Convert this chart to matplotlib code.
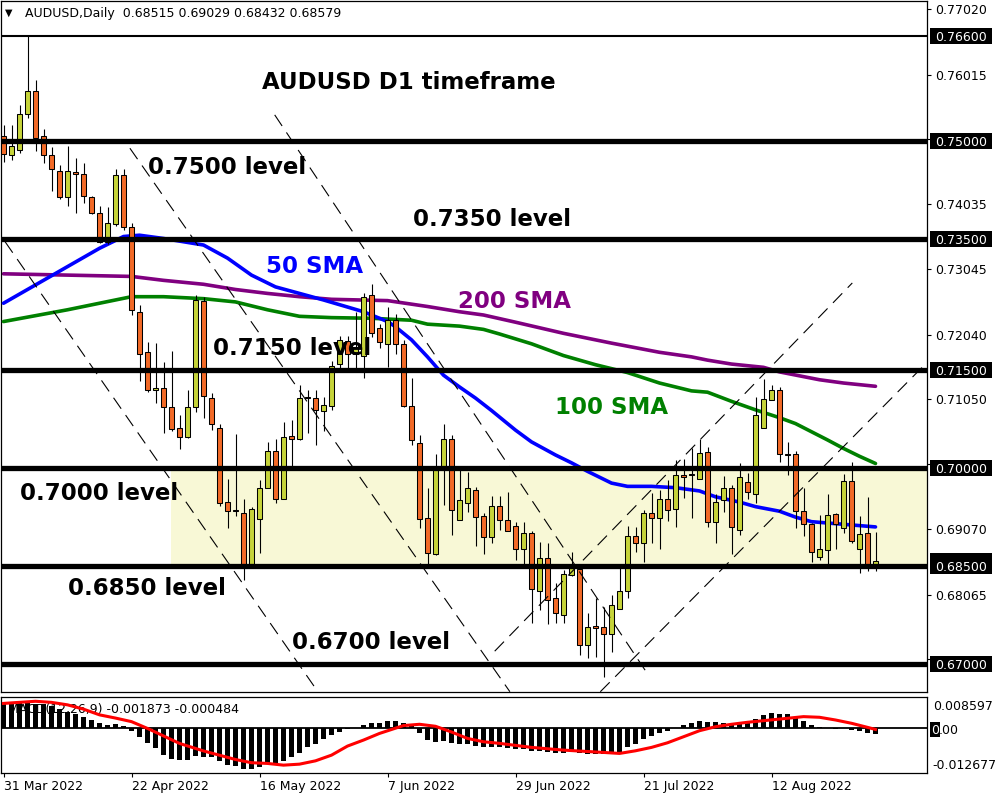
import numpy as np
import matplotlib
matplotlib.use("Agg")
import matplotlib.pyplot as plt
from matplotlib.patches import Rectangle
from matplotlib import transforms

# ---------------------------------------------------------------- data
symbol = "AUDUSD,Daily"
last_ohlc = [0.68515, 0.69029, 0.68432, 0.68579]
macd_header = [-0.001873, -0.000484]

opens = [0.7507, 0.7478, 0.7486, 0.7541, 0.7576, 0.7507, 0.7478, 0.7454, 0.7414, 0.7452,
         0.7449, 0.7414, 0.7390, 0.7346, 0.7373, 0.7448, 0.7368, 0.7239, 0.7177, 0.7120,
         0.7123, 0.7093, 0.7062, 0.7047, 0.7093, 0.7256, 0.7107, 0.7062, 0.6948, 0.6936,
         0.6931, 0.6853, 0.6922, 0.6969, 0.7026, 0.6953, 0.7049, 0.7045, 0.7107, 0.7107,
         0.7087, 0.7095, 0.7159, 0.7194, 0.7175, 0.7172, 0.7265, 0.7214, 0.7190, 0.7226,
         0.7189, 0.7095, 0.7038, 0.6924, 0.6868, 0.6999, 0.7044, 0.6920, 0.6946, 0.6967,
         0.6926, 0.6894, 0.6942, 0.6921, 0.6911, 0.6876, 0.6900, 0.6812, 0.6863, 0.6801,
         0.6776, 0.6836, 0.6846, 0.6730, 0.6758, 0.6757, 0.6747, 0.6784, 0.6812, 0.6896,
         0.6886, 0.6932, 0.6924, 0.6953, 0.6937, 0.6990, 0.6990, 0.6983, 0.7024, 0.6917,
         0.6951, 0.6969, 0.6906, 0.6978, 0.6961, 0.7062, 0.7104, 0.7119, 0.7021, 0.7021,
         0.6935, 0.6914, 0.6864, 0.6874, 0.6929, 0.6908, 0.6980, 0.6877, 0.6900, 0.68515]

highs = [0.7524, 0.7524, 0.7555, 0.7660, 0.7593, 0.7518, 0.7491, 0.7464, 0.7492, 0.7474,
         0.7467, 0.7416, 0.7400, 0.7399, 0.7457, 0.7457, 0.7375, 0.7249, 0.7192, 0.7191,
         0.7162, 0.7179, 0.7081, 0.7119, 0.7265, 0.7262, 0.7114, 0.7068, 0.6984, 0.7052,
         0.6952, 0.6940, 0.6982, 0.7040, 0.7045, 0.7071, 0.7073, 0.7127, 0.7119, 0.7119,
         0.7109, 0.7163, 0.7202, 0.7202, 0.7239, 0.7268, 0.7282, 0.7221, 0.7246, 0.7235,
         0.7196, 0.7137, 0.7050, 0.6969, 0.7022, 0.7068, 0.7050, 0.6997, 0.6994, 0.6971,
         0.6932, 0.6957, 0.6957, 0.6963, 0.6918, 0.6918, 0.6903, 0.6887, 0.6885, 0.6825,
         0.6844, 0.6872, 0.6854, 0.6778, 0.6802, 0.6787, 0.6806, 0.6847, 0.6911, 0.6910,
         0.6936, 0.6962, 0.6966, 0.6982, 0.7012, 0.7014, 0.7030, 0.7045, 0.7032, 0.6960,
         0.6988, 0.6974, 0.7008, 0.6993, 0.7108, 0.7136, 0.7127, 0.7124, 0.7040, 0.7026,
         0.6969, 0.6916, 0.6928, 0.6961, 0.6931, 0.6991, 0.7009, 0.6926, 0.6956, 0.69029]

lows = [0.7468, 0.7471, 0.7481, 0.7535, 0.7484, 0.7466, 0.7424, 0.7412, 0.7400, 0.7390,
        0.7406, 0.7388, 0.7344, 0.7343, 0.7370, 0.7364, 0.7234, 0.7133, 0.7117, 0.7100,
        0.7054, 0.7056, 0.7029, 0.7046, 0.7086, 0.7076, 0.7058, 0.6942, 0.6909, 0.6926,
        0.6829, 0.6850, 0.6870, 0.6969, 0.6947, 0.6952, 0.7002, 0.7043, 0.7054, 0.7035,
        0.7056, 0.7089, 0.7153, 0.7153, 0.7153, 0.7138, 0.7200, 0.7184, 0.7155, 0.7174,
        0.7093, 0.7036, 0.6909, 0.6854, 0.6867, 0.6943, 0.6897, 0.6920, 0.6933, 0.6881,
        0.6869, 0.6885, 0.6906, 0.6903, 0.6860, 0.6853, 0.6763, 0.6783, 0.6761, 0.6763,
        0.6763, 0.6835, 0.6714, 0.6709, 0.6711, 0.6681, 0.6718, 0.6784, 0.6801, 0.6871,
        0.6857, 0.6886, 0.6877, 0.6919, 0.6910, 0.6954, 0.6923, 0.6983, 0.6910, 0.6885,
        0.6933, 0.6869, 0.6898, 0.6952, 0.6946, 0.7062, 0.7104, 0.7010, 0.6989, 0.6909,
        0.6896, 0.6857, 0.6859, 0.6852, 0.6877, 0.6901, 0.6886, 0.6839, 0.6843, 0.68432]

closes = [0.7480, 0.7493, 0.7541, 0.7576, 0.7504, 0.7478, 0.7458, 0.7414, 0.7454, 0.7449,
          0.7416, 0.7390, 0.7345, 0.7374, 0.7448, 0.7369, 0.7242, 0.7175, 0.7120, 0.7123,
          0.7093, 0.7059, 0.7048, 0.7094, 0.7257, 0.7110, 0.7068, 0.6946, 0.6935, 0.6935,
          0.6853, 0.6938, 0.6969, 0.7026, 0.6953, 0.7047, 0.7045, 0.7107, 0.7108, 0.7089,
          0.7096, 0.7156, 0.7196, 0.7175, 0.7185, 0.7262, 0.7206, 0.7192, 0.7226, 0.7189,
          0.7095, 0.7043, 0.6922, 0.6870, 0.6999, 0.7044, 0.6936, 0.6951, 0.6969, 0.6925,
          0.6894, 0.6942, 0.6921, 0.6904, 0.6876, 0.6900, 0.6815, 0.6863, 0.6799, 0.6779,
          0.6838, 0.6847, 0.6730, 0.6757, 0.6756, 0.6747, 0.6790, 0.6812, 0.6896, 0.6886,
          0.6932, 0.6923, 0.6953, 0.6936, 0.6990, 0.6987, 0.6991, 0.7023, 0.6917, 0.6948,
          0.6969, 0.6910, 0.6986, 0.6964, 0.7081, 0.7105, 0.7120, 0.7021, 0.7020, 0.6935,
          0.6914, 0.6871, 0.6876, 0.6928, 0.6914, 0.6980, 0.6889, 0.6899, 0.6850, 0.68579]

# moving averages (bar index, value)
sma50_bars = [0, 4, 8, 12, 15, 17, 20, 23, 25, 28, 31, 34, 37, 40, 45, 48, 49, 51, 53, 55, 57,
              59, 61, 64, 66, 69, 71, 73, 76, 78, 81, 84, 87, 89, 92, 94, 97, 99, 101, 104, 107, 109]
sma50_vals = [0.7252, 0.7280, 0.7308, 0.7336, 0.7354, 0.7356, 0.7351, 0.7345, 0.7341, 0.7321,
              0.7295, 0.7277, 0.7267, 0.7257, 0.7239, 0.7224, 0.7216, 0.7196, 0.7170, 0.7142,
              0.7124, 0.7107, 0.7088, 0.7058, 0.7040, 0.7020, 0.7008, 0.6995, 0.6977, 0.6972,
              0.6972, 0.6970, 0.6965, 0.6956, 0.6948, 0.6941, 0.6934, 0.6925, 0.6918, 0.6915,
              0.6912, 0.6910]

sma100_bars = [0, 8, 12, 16, 20, 25, 29, 33, 37, 41, 46, 51, 53, 57, 60, 62, 66, 70, 74, 78,
               82, 86, 88, 91, 94, 97, 99, 103, 105, 107, 109]
sma100_vals = [0.7224, 0.7242, 0.7252, 0.7262, 0.7262, 0.7259, 0.7254, 0.7242, 0.7232, 0.7230,
               0.7229, 0.7226, 0.7220, 0.7217, 0.7212, 0.7205, 0.7190, 0.7172, 0.7158, 0.7146,
               0.7130, 0.7118, 0.7116, 0.7102, 0.7089, 0.7077, 0.7068, 0.7043, 0.7030, 0.7018,
               0.7007]

sma200_bars = [0, 8, 16, 20, 25, 29, 33, 37, 41, 48, 53, 57, 60, 64, 70, 76, 82, 86, 88, 91,
               95, 97, 102, 105, 109]
sma200_vals = [0.7297, 0.7295, 0.7293, 0.7287, 0.7281, 0.7273, 0.7267, 0.7262, 0.7258, 0.7256,
               0.7247, 0.7239, 0.7234, 0.7223, 0.7206, 0.7191, 0.7177, 0.7170, 0.7165, 0.7159,
               0.7154, 0.7147, 0.7135, 0.7130, 0.7125]

# MACD(12,26,9)
macd_hist = [0.00670, 0.00680, 0.00680, 0.00680, 0.00670, 0.00660, 0.00600, 0.00510, 0.00430, 0.00370,
             0.00290, 0.00220, 0.00120, 0.00076, 0.00093, 0.00040, -0.00100, -0.00270, -0.00440, -0.00570,
             -0.00750, -0.00885, -0.00900, -0.00910, -0.00790, -0.00810, -0.00810, -0.00930, -0.01030, -0.01070,
             -0.01169, -0.01169, -0.01110, -0.01020, -0.00984, -0.00927, -0.00815, -0.00703, -0.00551, -0.00458,
             -0.00326, -0.00205, -0.00112, -0.00045, -0.00017, 0.00076, 0.00124, 0.00124, 0.00188, 0.00188,
             0.00124, 0.00084, -0.00157, -0.00346, -0.00393, -0.00365, -0.00438, -0.00458, -0.00467, -0.00514,
             -0.00551, -0.00551, -0.00534, -0.00580, -0.00608, -0.00608, -0.00646, -0.00646, -0.00674, -0.00703,
             -0.00703, -0.00674, -0.00720, -0.00739, -0.00739, -0.00739, -0.00720, -0.00720, -0.00551, -0.00458,
             -0.00326, -0.00225, -0.00157, -0.00084, -0.00010, 0.00076, 0.00141, 0.00188, 0.00152, 0.00152,
             0.00124, 0.00096, 0.00124, 0.00169, 0.00236, 0.00357, 0.00405, 0.00385, 0.00385, 0.00292,
             0.00188, 0.00076, 0.00010, 0.00003, -0.00045, -0.00017, -0.00065, -0.00084, -0.00141, -0.001873]
signal_bars = [0, 4, 6, 8, 10, 12, 14, 16, 18, 20, 22, 25, 27, 29, 31, 33, 35, 37, 39, 41,
               43, 45, 47, 50, 52, 54, 56, 58, 60, 62, 66, 70, 75, 77, 79, 81, 83, 85, 87, 89,
               91, 93, 95, 98, 100, 102, 104, 106, 108, 109]
signal_vals = [0.00680, 0.00740, 0.00710, 0.00640, 0.00520, 0.00360, 0.00270, 0.00170, -0.00020, -0.00230,
               -0.00440, -0.00650, -0.00770, -0.00890, -0.00980, -0.01000, -0.01048, -0.01020, -0.00927, -0.00768,
               -0.00514, -0.00346, -0.00160, 0.00060, 0.00096, 0.00040, -0.00120, -0.00300, -0.00393, -0.00438,
               -0.00551, -0.00627, -0.00692, -0.00720, -0.00646, -0.00551, -0.00422, -0.00253, -0.00084, 0.00028,
               0.00096, 0.00152, 0.00197, 0.00264, 0.00310, 0.00292, 0.00216, 0.00124, 0.00010, -0.000484]
macd_range = (-0.012677, 0.008597)

# horizontal levels
levels = [0.7500, 0.7350, 0.7150, 0.7000, 0.6850, 0.6700]
swing_high = 0.7660
zone_low, zone_high = 0.6850, 0.7000
zone_from_bar = 20.95

# hand-drawn channel lines: (bar, price) -> (bar, price)
channels = [((33.9, 0.7540), (80.2, 0.6691)),
            ((15.8, 0.7489), (63.3, 0.6658)),
            ((0.2, 0.7346), (39.3, 0.6658)),
            ((61.4, 0.6720), (106.1, 0.7283)),
            ((74.6, 0.6658), (115.4, 0.7161))]

price_ticks = [0.77020, 0.76015, 0.75025, 0.74035, 0.73045, 0.72040, 0.71050,
               0.70060, 0.69070, 0.68065, 0.67075]
date_bars = [0, 16, 32, 48, 64, 80, 96]
date_labels = ["31 Mar 2022", "22 Apr 2022", "16 May 2022", "7 Jun 2022",
               "29 Jun 2022", "21 Jul 2022", "12 Aug 2022"]

# ---------------------------------------------------------------- layout
W, H = 1000, 800
BULL, BEAR = "#C6D43A", "#F26A27"
ZONE = "#F8F8D6"


def fig_rect(left, top, right, bottom):
    return [left / W, 1 - bottom / H, (right - left) / W, (bottom - top) / H]


def fpt(x, y):
    return x / W, 1 - y / H


fig = plt.figure(figsize=(10, 8), dpi=100, facecolor="white")
ax = fig.add_axes(fig_rect(1, 1, 927, 692))
ax2 = fig.add_axes(fig_rect(1, 697, 927, 773))

XLIM = (-0.3125, 115.4375)
YLIM = (0.66576, 0.77141)

for a in (ax, ax2):
    a.set_xlim(*XLIM)
    for s in a.spines.values():
        s.set_linewidth(0.9)
        s.set_color("black")
ax.set_ylim(*YLIM)
ax2.set_ylim(*macd_range)

# ---------------------------------------------------------------- price panel
o, h, l, c = (np.asarray(v) for v in (opens, highs, lows, closes))
idx = np.arange(len(o))
up = c >= o

ax.add_patch(Rectangle((zone_from_bar, zone_low), 200, zone_high - zone_low,
                       facecolor=ZONE, edgecolor="none", zorder=1))

ax.plot(sma200_bars, sma200_vals, color="#800080", lw=2.6, zorder=2.5, solid_capstyle="round")
ax.plot(sma100_bars, sma100_vals, color="#008000", lw=2.6, zorder=2.6, solid_capstyle="round")
ax.plot(sma50_bars, sma50_vals, color="#0000FF", lw=2.6, zorder=2.7, solid_capstyle="round")

ax.vlines(idx, l, h, color="black", lw=0.8, zorder=3)
ax.bar(idx, np.abs(c - o), bottom=np.minimum(o, c), width=0.62,
       color=np.where(up, BULL, BEAR), edgecolor="black", linewidth=0.75, zorder=3.5)

for (x0, y0), (x1, y1) in channels:
    ax.plot([x0, x1], [y0, y1], color="black", lw=0.8, ls=(0, (12, 7)), zorder=4)

for lv in levels:
    ax.axhline(lv, color="black", lw=3.8, zorder=5)
ax.axhline(swing_high, color="black", lw=1.5, zorder=5)

# price scale: ticks that sit under a black tag carry no text of their own
tagged = [swing_high] + levels + [last_ohlc[3]]
ax.set_xticks([])
ax.yaxis.tick_right()
ax.set_yticks(price_ticks)
ax.set_yticklabels(["" if min(abs(v - t) for t in tagged) < 0.0009 else f"{v:.5f}"
                    for v in price_ticks])
ax.tick_params(axis="y", direction="out", length=3, width=0.8, pad=3, labelsize=9)

lab_tf = transforms.blended_transform_factory(ax.transAxes, ax.transData)
box_h = 16 * (YLIM[1] - YLIM[0]) / 691


def price_tag(val, text=None):
    ax.add_patch(Rectangle(((930 - 1) / 926, val - box_h / 2), 62 / 926, box_h,
                           transform=lab_tf, facecolor="black", edgecolor="none",
                           clip_on=False, zorder=8))
    if text:
        ax.text((935 - 1) / 926, val, text, transform=lab_tf, color="white", fontsize=9,
                va="center_baseline", ha="left", clip_on=False, zorder=9)


price_tag(last_ohlc[3])
for lv in [swing_high] + levels:
    price_tag(lv, f"{lv:.5f}")

# captions
cap = dict(fontsize=16.5, fontweight="bold", ha="left", va="baseline", zorder=10)
fig.text(*fpt(262, 89), "AUDUSD D1 timeframe", color="black", **cap)
fig.text(*fpt(148, 173.5), "0.7500 level", color="black", **cap)
fig.text(*fpt(413, 226), "0.7350 level", color="black", **cap)
fig.text(*fpt(266, 273), "50 SMA", color="#0000FF", **cap)
fig.text(*fpt(458, 308), "200 SMA", color="#800080", **cap)
fig.text(*fpt(213, 355), "0.7150 level", color="black", **cap)
fig.text(*fpt(555, 414), "100 SMA", color="#008000", **cap)
fig.text(*fpt(20, 500.5), "0.7000 level", color="black", **cap)
fig.text(*fpt(68, 595), "0.6850 level", color="black", **cap)
fig.text(*fpt(292, 649), "0.6700 level", color="black", **cap)

# chart header
fig.text(*fpt(5, 13), "\u25BC", fontsize=7, ha="left", va="center")
fig.text(*fpt(25, 13), symbol + "  " + " ".join(f"{v:.5f}" for v in last_ohlc),
         fontsize=9, ha="left", va="center")

# ---------------------------------------------------------------- MACD panel
ax2.text(*fpt(8, 710), "MACD(12,26,9) %.6f %.6f" % tuple(macd_header),
         transform=fig.transFigure, fontsize=9, ha="left", va="center", zorder=1)
ax2.axhline(0, color="black", lw=1.3, zorder=2)
ax2.bar(idx, macd_hist, width=0.7, color="black", zorder=3)
ax2.plot(signal_bars, signal_vals, color="#FF0000", lw=2.2, zorder=4)

ax2.set_yticks([])
ax2.set_xticks(date_bars)
ax2.set_xticklabels(date_labels, ha="left")
ax2.tick_params(axis="x", direction="out", length=3, width=0.8, pad=2, labelsize=9)

ax2.text(*fpt(933, 705), "%.6f" % macd_range[1], transform=fig.transFigure, fontsize=9,
         ha="left", va="center_baseline")
ax2.text(*fpt(932, 764), "%.6f" % macd_range[0], transform=fig.transFigure, fontsize=9,
         ha="left", va="center_baseline")
zero_tf = transforms.blended_transform_factory(fig.transFigure, ax2.transData)
ax2.add_patch(Rectangle((930 / W, -0.0005 - 0.0021), 9.5 / W, 0.0042, transform=zero_tf,
                        facecolor="black", edgecolor="none", clip_on=False, zorder=8))
ax2.text(931 / W, -0.0005, "0", transform=zero_tf, fontsize=9, color="white",
         ha="left", va="center_baseline", clip_on=False, zorder=9)
ax2.text(931 / W + 7.6 / W, -0.0005, ".00", transform=zero_tf, fontsize=9, color="black",
         ha="left", va="center_baseline", clip_on=False, zorder=9)

fig.savefig("out.png", dpi=100, facecolor="white")
